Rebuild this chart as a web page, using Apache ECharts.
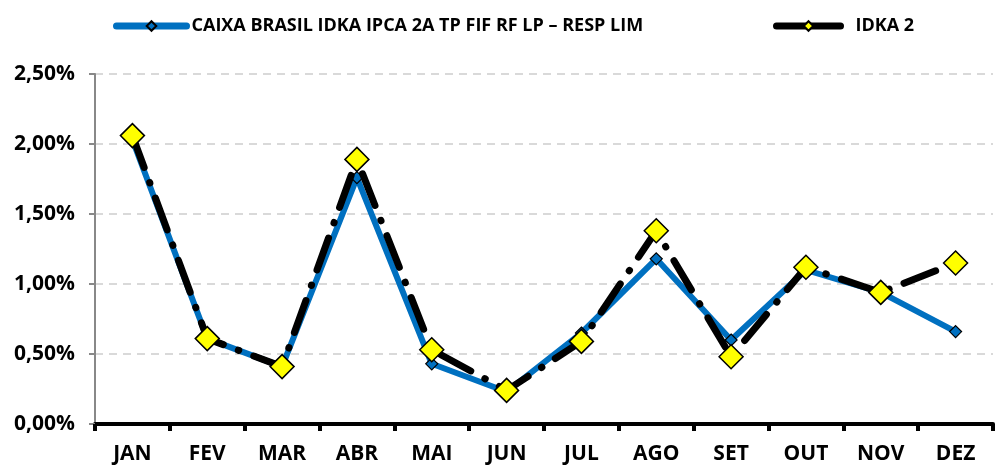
<!DOCTYPE html>
<html>
<head>
<meta charset="utf-8">
<script src="https://cdn.jsdelivr.net/npm/echarts@6/dist/echarts.min.js"></script>
<style>
html,body{margin:0;padding:0;background:#fff;}
#box{width:995px;height:469px;}
</style>
</head>
<body>
<div id="box"></div>
<script>
var months = ['JAN','FEV','MAR','ABR','MAI','JUN','JUL','AGO','SET','OUT','NOV','DEZ'];
var caixa = [2.03, 0.61, 0.41, 1.76, 0.43, 0.23, 0.65, 1.18, 0.60, 1.10, 0.94, 0.66];
var idka = [2.06, 0.61, 0.41, 1.89, 0.53, 0.24, 0.59, 1.38, 0.48, 1.12, 0.94, 1.15];
var yTicks = [0, 0.5, 1, 1.5, 2, 2.5];
var nomeCaixa = 'CAIXA BRASIL IDKA IPCA 2A TP FIF RF LP \u2013 RESP LIM';
var nomeIdka = 'IDKA 2';

var myChart = echarts.init(document.getElementById('box'));
var fnt = '"Open Sans", "Noto Sans", sans-serif';
var legTxt = {fontSize: 18, fontWeight: 'bold', color: '#000', fontFamily: fnt};
var option = {
    animation: false,
    textStyle: {fontFamily: fnt},
    legend: [
        {
            top: 12, left: 108, itemWidth: 70, itemHeight: 12,
            textStyle: legTxt,
            data: [{name: nomeCaixa, lineStyle: {width: 7, type: 'solid', cap: 'round'}}]
        },
        {
            top: 12, left: 768, itemWidth: 64, itemHeight: 12,
            textStyle: Object.assign({}, legTxt, {padding: [0, 0, 0, 10]}),
            data: [{name: nomeIdka, lineStyle: {width: 7, type: 'solid', cap: 'round'}}]
        }
    ],
    grid: {left: 95, right: 2, top: 74, bottom: 45},
    xAxis: {
        type: 'category',
        data: months,
        boundaryGap: true,
        axisLine: {lineStyle: {color: '#000', width: 4}},
        axisTick: {show: true, length: 7, lineStyle: {color: '#000', width: 4}},
        axisLabel: {fontSize: 21, fontWeight: 'bold', color: '#000', margin: 20}
    },
    yAxis: {
        type: 'value',
        min: yTicks[0],
        max: yTicks[yTicks.length - 1],
        interval: 0.5,
        axisLine: {show: true, lineStyle: {color: '#888', width: 2}},
        axisTick: {show: true, length: 6, lineStyle: {color: '#888', width: 2}},
        splitLine: {lineStyle: {color: '#d9d9d9', width: 2, type: [8, 6]}},
        axisLabel: {
            fontSize: 21, fontWeight: 'bold', color: '#000', margin: 20,
            formatter: function (v) { return v.toFixed(2).replace('.', ',') + '%'; }
        }
    },
    series: [
        {
            name: nomeCaixa,
            type: 'line',
            data: caixa,
            symbol: 'diamond',
            symbolSize: 12,
            lineStyle: {color: '#0070C0', width: 6},
            itemStyle: {color: '#0070C0', borderColor: '#000', borderWidth: 1.2},
            z: 2
        },
        {
            name: nomeIdka,
            type: 'line',
            data: idka,
            symbol: 'diamond',
            symbolSize: 24,
            lineStyle: {color: '#000', width: 7, type: [34, 16, 0.5, 16], cap: 'round'},
            itemStyle: {color: '#FFFF00', borderColor: '#000', borderWidth: 1.5},
            z: 3
        }
    ]
};
myChart.setOption(option, true);
</script>
</body>
</html>
